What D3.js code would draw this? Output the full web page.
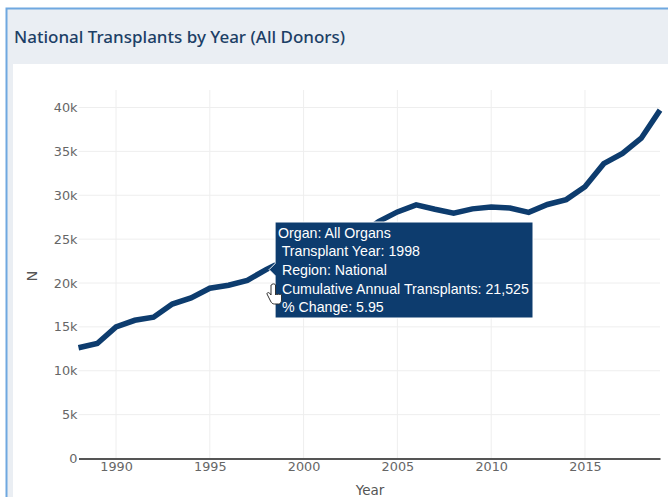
<!DOCTYPE html>
<html>
<head>
<meta charset="utf-8">
<script src="https://cdn.jsdelivr.net/npm/d3@7"></script>
<style>
    html, body { margin: 0; padding: 0; background: #fff; overflow: hidden; }
    #chart { width: 668px; height: 497px; }
    text { font-family: "DejaVu Sans", Verdana, sans-serif; }
    .tick text { fill: #666; font-size: 12.8px; }
    .tiptext { font-family: "Liberation Sans", Arial, sans-serif; fill: #fff; font-size: 14.2px; }
</style>
</head>
<body>
<div id="chart"></div>
<script>
const years = [1988,1989,1990,1991,1992,1993,1994,1995,1996,1997,1998,1999,2000,2001,2002,2003,
    2004,2005,2006,2007,2008,2009,2010,2011,2012,2013,2014,2015,2016,2017,2018,2019];
const transplants = [12620,13100,15000,15750,16100,17600,18300,19400,19750,20300,21525,22600,
    23400,24200,24900,25500,27000,28100,28900,28400,27960,28450,28660,28540,28050,28950,29500,
    30970,33600,34770,36500,39700];
const xTicks = [1990,1995,2000,2005,2010,2015];
const yTicks = [0,5000,10000,15000,20000,25000,30000,35000,40000];
const tooltipLines = [
    "Organ: All Organs",
    " Transplant Year: 1998",
    " Region: National",
    " Cumulative Annual Transplants: 21,525",
    " % Change: 5.95"
];

const width = 668;
const height = 497;

const svg = d3.select("#chart")
    .append("svg")
    .attr("width", width)
    .attr("height", height);

/*
PANEL
*/
svg.append("rect").attr("x", 6).attr("y", 8).attr("width", 662).attr("height", 489).attr("fill", "#eaeef3");
svg.append("rect").attr("x", 13).attr("y", 64).attr("width", 655).attr("height", 433).attr("fill", "#fff");
svg.append("path")
    .attr("d", "M6.5,497V8.5H668")
    .attr("fill", "none")
    .attr("stroke", "#6fa8e0")
    .attr("stroke-width", 2);
svg.append("text")
    .attr("x", 14)
    .attr("y", 42.500)
    .attr("fill", "#1c3f66")
    .style("font-family", "'Noto Sans', sans-serif")
    .style("font-size", "17px")
    .style("font-weight", 500)
    .text("National Transplants by Year (All Donors)");

/*
SCALES
*/
const xScale = d3.scaleLinear()
    .domain([1988, 2019])
    .range([78.5, 660]);

const yScale = d3.scaleLinear()
    .domain([0, 40000])
    .range([458.5, 107.5]);

/*
GRID + AXES
*/
svg.append("g")
    .selectAll("line")
    .data(xTicks)
    .enter()
    .append("line")
        .attr("x1", function(d) { return xScale(d); })
        .attr("x2", function(d) { return xScale(d); })
        .attr("y1", 90)
        .attr("y2", 458)
        .attr("stroke", "#eee");

svg.append("g")
    .selectAll("line")
    .data(yTicks.slice(1))
    .enter()
    .append("line")
        .attr("x1", 78.5)
        .attr("x2", 660)
        .attr("y1", function(d) { return yScale(d); })
        .attr("y2", function(d) { return yScale(d); })
        .attr("stroke", "#eee");

const xAxis = svg.append("g")
    .attr("transform", "translate(0,458.5)")
    .call(d3.axisBottom(xScale).tickValues(xTicks).tickFormat(d3.format("d")).tickSize(0).tickPadding(3));
xAxis.select(".domain").attr("stroke", "#555").attr("stroke-width", 2);

const yAxis = svg.append("g")
    .attr("transform", "translate(78.5,0)")
    .call(d3.axisLeft(yScale).tickValues(yTicks).tickFormat(function(d) { return d === 0 ? "0" : (d / 1000) + "k"; }).tickSize(0).tickPadding(1));
yAxis.select(".domain").remove();

svg.append("text")
    .attr("x", 370)
    .attr("y", 495)
    .attr("text-anchor", "middle")
    .attr("fill", "#555")
    .style("font-size", "13.5px")
    .text("Year");

svg.append("text")
    .attr("transform", "translate(37,276) rotate(-90)")
    .attr("text-anchor", "middle")
    .attr("fill", "#555")
    .style("font-size", "14.5px")
    .text("N");

/*
LINE
*/
const line = d3.line()
    .x(function(d, i) { return xScale(years[i]); })
    .y(function(d) { return yScale(d); })
    .curve(d3.curveLinear);

svg.append("path")
    .datum(transplants)
    .attr("d", line)
    .attr("fill", "none")
    .attr("stroke", "#0d3c6e")
    .attr("stroke-width", 5.5);

/*
TOOLTIP
*/
const tipX = xScale(1998) + 3;
const tipY = yScale(21525);
const tip = svg.append("g");

tip.append("path")
    .attr("d", `M${tipX},${tipY}l6,-6V222H533V318H${tipX + 6}V${tipY + 6}Z`)
    .attr("fill", "#0d3c6e")
    .attr("stroke", "#fff")
    .attr("stroke-width", 1);

tip.selectAll("text")
    .data(tooltipLines)
    .enter()
    .append("text")
        .attr("class", "tiptext")
        .attr("x", 278)
        .attr("y", function(d, i) { return 237.5 + i * 18.7; })
        .attr("xml:space", "preserve")
        .style("white-space", "pre")
        .text(function(d) { return d; });

/*
CURSOR
*/
svg.append("path")
    .attr("d", "M271,285v10l-1.500,-2c-1,-1 -3,0 -2.500,1l3.500,7c1,2 2,3 4,3h4c2,0 3,-2 3,-4v-5c0,-1 -1.500,-1 -2,0c0,-1 -1.500,-1.500 -2,0c0,-1 -1.500,-1 -2,0v-10c0,-1.500 -4,-1.500 -4,0z")
    .attr("fill", "#fff")
    .attr("stroke", "#333")
    .attr("stroke-width", 1);
</script>
</body>
</html>
